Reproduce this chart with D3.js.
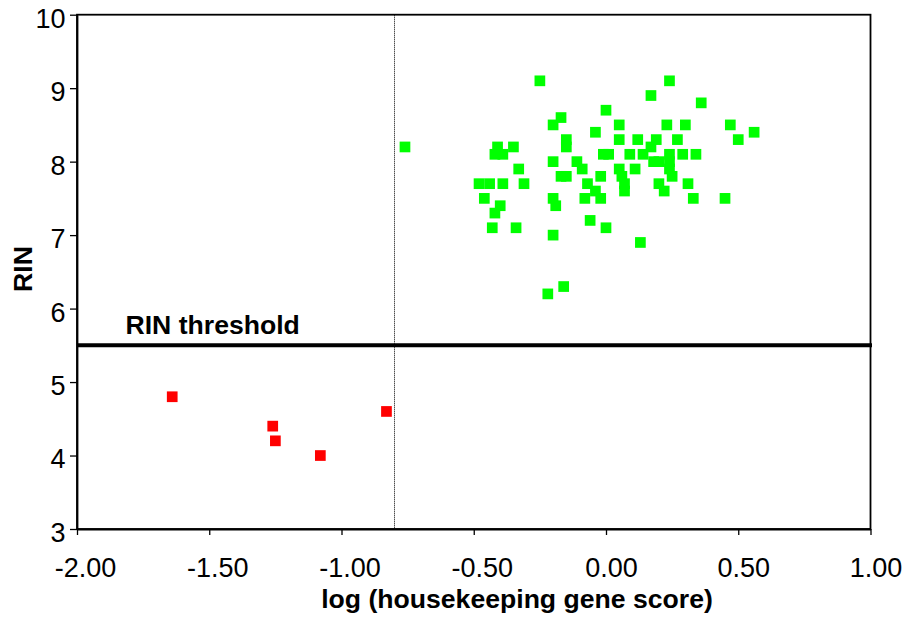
<!DOCTYPE html>
<html>
<head>
<meta charset="utf-8">
<script src="https://cdn.jsdelivr.net/npm/d3@7"></script>
<style>
  html, body { margin: 0; padding: 0; background: #fff; }
  svg { display: block; font-family: "Liberation Sans", Arial, sans-serif; }
</style>
</head>
<body>
<svg id="chart" width="906" height="625"></svg>
<script>
// ---- data ----
const passX = [-0.25,-0.17,-0.20,-0.76,-0.41,-0.35,-0.15,-0.15,-0.42,-0.39,-0.33,-0.20,-0.11,-0.09,-0.17,-0.15,
  -0.48,-0.44,-0.39,-0.31,-0.46,-0.40,-0.42,-0.43,-0.34,-0.20,-0.19,-0.20,-0.16,-0.22,
  0.24,0.17,0.36,0.00,0.05,0.23,0.30,0.47,0.56,-0.04,0.50,0.05,0.12,0.19,0.27,0.17,
  -0.01,0.01,0.09,0.14,0.24,0.29,0.34,0.18,0.20,0.24,0.24,0.05,0.11,-0.02,0.06,0.25,
  -0.07,0.07,0.20,0.31,-0.04,0.07,0.22,-0.08,-0.02,0.33,0.45,-0.06,0.00,0.13];
const passRIN = [9.1,8.6,8.5,8.2,8.2,8.2,8.3,8.2,8.1,8.1,7.9,8.0,8.0,7.9,7.8,7.8,
  7.7,7.7,7.7,7.7,7.5,7.4,7.3,7.1,7.1,7.5,7.4,7.0,6.3,6.2,
  9.1,8.9,8.8,8.7,8.5,8.5,8.5,8.5,8.4,8.4,8.3,8.3,8.3,8.3,8.3,8.2,
  8.1,8.1,8.1,8.1,8.1,8.1,8.1,8.0,8.0,8.0,7.9,7.9,7.9,7.8,7.8,7.8,
  7.7,7.7,7.7,7.7,7.6,7.6,7.6,7.5,7.5,7.5,7.5,7.2,7.1,6.9];
const failX = [-1.64,-1.26,-1.25,-1.08,-0.83];
const failRIN = [4.8,4.4,4.2,4.0,4.6];
const rinThreshold = [5.5];
const scoreCutoff = [-0.8];
const xTicks = [-2, -1.5, -1, -0.5, 0, 0.5, 1];
const xTickLabels = ["-2.00","-1.50","-1.00","-0.50","0.00","0.50","1.00"];
const yTicks = [3,4,5,6,7,8,9,10];
const xTitle = "log (housekeeping gene score)";
const yTitle = "RIN";
const thresholdLabel = "RIN threshold";

// ---- layout ----
const mLeft = 77, mRight = 870.5, mTop = 14.7, mBottom = 529;
const svg = d3.select("#chart");
const x = d3.scaleLinear().domain([-2, 1]).range([mLeft, mRight]);
const y = d3.scaleLinear().domain([3, 10]).range([mBottom, mTop]);
const FS = 27, FSB = 26.6;

// frame
svg.append("rect")
  .attr("x", mLeft).attr("y", mTop)
  .attr("width", mRight - mLeft).attr("height", mBottom - mTop)
  .attr("fill", "none").attr("stroke", "#000").attr("stroke-width", 1.8);

// cutoff dotted line
svg.selectAll(".cutoff").data(scoreCutoff).enter().append("line")
  .attr("x1", d => Math.round(x(d)) + 0.5).attr("x2", d => Math.round(x(d)) + 0.5)
  .attr("y1", mTop).attr("y2", mBottom)
  .attr("stroke", "#000").attr("stroke-width", 1).attr("stroke-dasharray", "1,1");

// threshold line
svg.selectAll(".thr").data(rinThreshold).enter().append("line")
  .attr("x1", mLeft).attr("x2", mRight + 1.5)
  .attr("y1", d => y(d)).attr("y2", d => y(d))
  .attr("stroke", "#000").attr("stroke-width", 4);

svg.append("text")
  .attr("x", 125.5).attr("y", 334)
  .attr("font-size", FSB).attr("font-weight", "bold")
  .text(thresholdLabel);

// axes
const xAxis = d3.axisBottom(x).tickValues(xTicks).tickSize(6).tickSizeOuter(0)
  .tickFormat((d, i) => xTickLabels[i]);
const gx = svg.append("g").attr("transform", `translate(0,${mBottom})`).call(xAxis);
gx.select(".domain").attr("stroke-width", 1.8);
gx.selectAll(".tick line").attr("stroke-width", 1.3);
gx.selectAll(".tick text")
  .attr("font-size", FS).attr("font-family", "Liberation Sans, Arial, sans-serif")
  .attr("fill", "#000")
  .attr("y", 48).attr("dy", 0)
  .attr("dx", d => d < 0 ? 8 : 5);

const yAxis = d3.axisLeft(y).tickValues(yTicks).tickSize(7).tickSizeOuter(0)
  .tickFormat(d3.format("d"));
const gy = svg.append("g").attr("transform", `translate(${mLeft},0)`).call(yAxis);
gy.select(".domain").attr("stroke-width", 1.8);
gy.selectAll(".tick line").attr("stroke-width", 1.3);
gy.selectAll(".tick text")
  .attr("font-size", FS).attr("font-family", "Liberation Sans, Arial, sans-serif")
  .attr("fill", "#000")
  .attr("x", -11.5).attr("dy", "0.46em");

// axis titles
svg.append("text")
  .attr("x", 517).attr("y", 607.5)
  .attr("text-anchor", "middle")
  .attr("font-size", FSB).attr("font-weight", "bold")
  .text(xTitle);

svg.append("text")
  .attr("transform", "translate(32,269) rotate(-90)")
  .attr("text-anchor", "middle")
  .attr("font-size", FSB).attr("font-weight", "bold")
  .text(yTitle);

// points
const sq = 10.7;
const passData = passX.map((v, i) => ({x: v, y: passRIN[i]}));
const failData = failX.map((v, i) => ({x: v, y: failRIN[i]}));

svg.append("g").selectAll("rect").data(passData).enter().append("rect")
  .attr("x", d => x(d.x) - sq / 2).attr("y", d => y(d.y) - sq / 2)
  .attr("width", sq).attr("height", sq)
  .attr("fill", "#00ff00");

svg.append("g").selectAll("rect").data(failData).enter().append("rect")
  .attr("x", d => x(d.x) - sq / 2).attr("y", d => y(d.y) - sq / 2)
  .attr("width", sq).attr("height", sq)
  .attr("fill", "#ff0000");
</script>
</body>
</html>
